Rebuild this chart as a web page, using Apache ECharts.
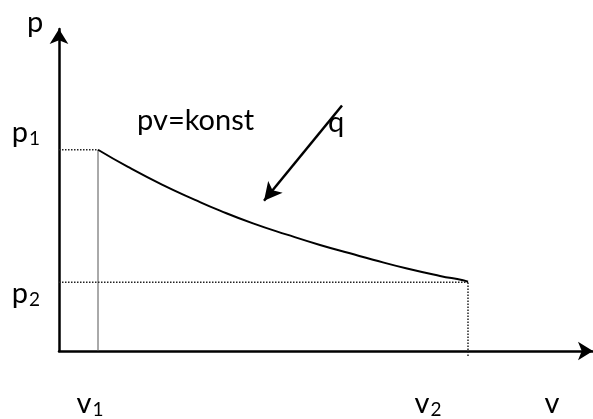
<!DOCTYPE html>
<html>
<head>
<meta charset="utf-8">
<script src="https://cdn.jsdelivr.net/npm/echarts@6/dist/echarts.min.js"></script>
<style>
  html, body { margin: 0; padding: 0; background: #fff; }
  #main { width: 593px; height: 419px; }
</style>
</head>
<body>
<div id="main"></div>
<script>
// values in drawing units (v to the right, p upwards)
var vRange = [0, 534];
var pRange = [0, 328];
var v1 = 39, v2 = 409;
var p1 = 205, p2 = 70;
// isotherm pv = konst
var curveV = [39, 69, 103, 136, 161, 194, 228, 261, 291, 314, 348, 381, 404, 409];
var curveP = [205, 187.5, 169.5, 154, 143, 130, 118.5, 108, 99.5, 93, 84, 76.5, 72, 70.5];
// heat arrow q
var qFrom = [283, 250];
var qTo = [205, 153];
// label places along the axes
var vLabelPos = [31, 369, 493];
var vLabels = ['v{s|1}', 'v{s|2}', 'v'];
var pLabelPos = [58, 222];
var pLabels = ['p{s|2}', 'p{s|1}'];

var FONT = 'Lato, "Open Sans", sans-serif';

var myChart = echarts.init(document.getElementById('main'));

var curve = curveV.map(function (v, i) { return [v, curveP[i]]; });

var rich = {
    s: { fontSize: 19, fontFamily: FONT, color: '#000', padding: [11, 0, 0, 1] }
};

var dotted = { type: 'dotted', color: '#222', width: 1.5 };

function guide(points, style) {
    return {
        type: 'line',
        data: points,
        silent: true,
        clip: false,
        showSymbol: false,
        lineStyle: style
    };
}

var option = {
    animation: false,
    grid: { left: 59, right: 0, top: 29, bottom: 62 },
    xAxis: {
        type: 'value',
        min: vRange[0],
        max: vRange[1],
        splitLine: { show: false },
        axisTick: { show: false },
        axisLine: {
            lineStyle: { color: '#000', width: 2.5 },
            symbol: ['none', 'arrow'],
            symbolSize: [14, 15]
        },
        axisLabel: {
            customValues: vLabelPos,
            margin: 38,
            fontSize: 29,
            fontFamily: FONT,
            color: '#000',
            formatter: function (val) { return vLabels[vLabelPos.indexOf(val)]; },
            rich: rich
        }
    },
    yAxis: {
        type: 'value',
        min: pRange[0],
        max: pRange[1],
        splitLine: { show: false },
        axisTick: { show: false },
        axisLine: {
            lineStyle: { color: '#000', width: 2.5 },
            symbol: ['none', 'arrow'],
            symbolSize: [14, 15]
        },
        axisLabel: {
            customValues: pLabelPos,
            margin: 19,
            fontSize: 29,
            fontFamily: FONT,
            color: '#000',
            formatter: function (val) { return pLabels[pLabelPos.indexOf(val)]; },
            rich: rich
        }
    },
    graphic: [
        { type: 'text', left: 27, top: 8, style: { text: 'p', font: '29px ' + FONT, fill: '#000' } },
        { type: 'text', left: 137, top: 106, style: { text: 'pv=konst', font: '29px ' + FONT, fill: '#000' } },
        { type: 'text', left: 328, top: 108, style: { text: 'q', font: '29px ' + FONT, fill: '#000' } }
    ],
    series: [
        guide([[0, p1], [v1, p1]], dotted),
        guide([[v1, 0], [v1, p1]], { type: 'solid', color: '#555', width: 1 }),
        guide([[0, p2], [v2, p2]], dotted),
        guide([[v2, -5], [v2, p2]], dotted),
        {
            type: 'line',
            data: curve,
            smooth: 0.5,
            showSymbol: false,
            clip: false,
            lineStyle: { color: '#000', width: 2 }
        },
        {
            type: 'line',
            data: [],
            markLine: {
                silent: true,
                symbol: ['none', 'arrow'],
                symbolSize: [14, 18],
                label: { show: false },
                lineStyle: { type: 'solid', color: '#000', width: 2.5 },
                data: [[{ coord: qFrom }, { coord: qTo }]]
            }
        }
    ]
};
myChart.setOption(option);
</script>
</body>
</html>
